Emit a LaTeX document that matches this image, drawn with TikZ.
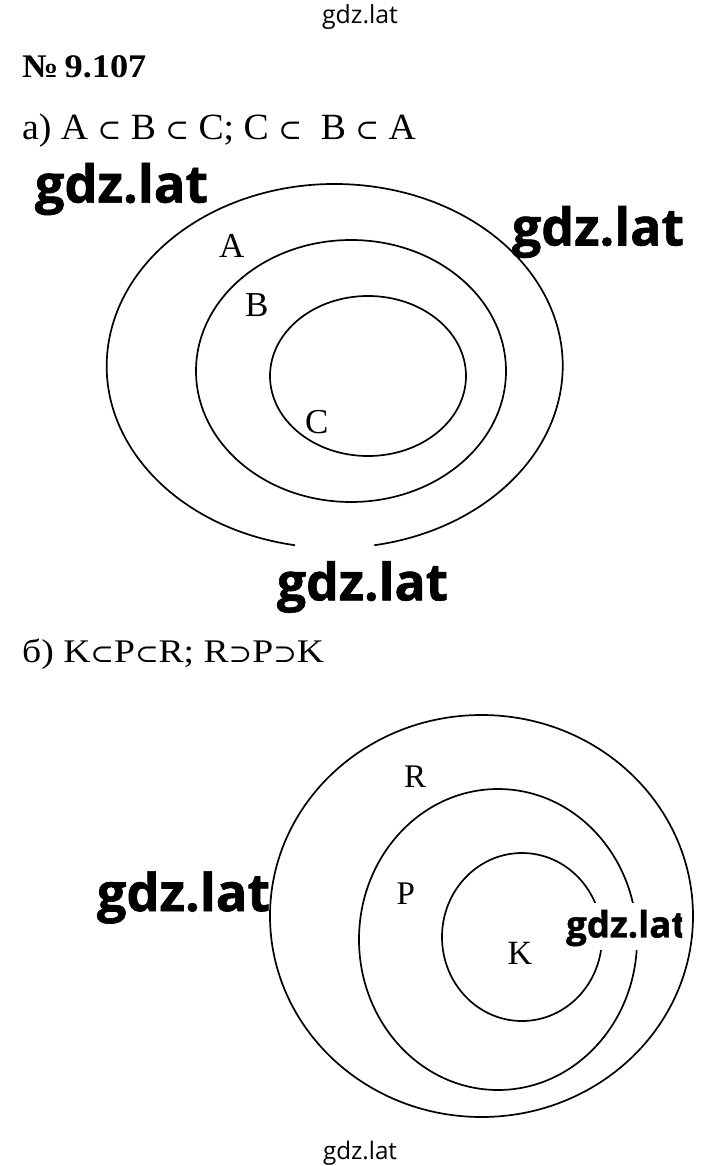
\documentclass[tikz,border=0pt]{standalone}
\usepackage{fontspec}
\usepackage{graphicx}
\setmainfont{Liberation Serif}
\newfontfamily\wmfont{Open Sans}[BoldFeatures={FakeBold=1.2}]
\newfontfamily\symf{DejaVu Serif}
\newcommand{\subs}{\scalebox{0.75}{\symf ⊂}}
\newcommand{\sups}{\scalebox{0.75}{\symf ⊃}}
\tikzset{
  x=1pt, y=-1pt,
  curve/.style={line width=1.7pt, black},
  lbl/.style={inner sep=0pt, font=\fontsize{35}{36}\selectfont},
  wmbig/.style={inner sep=0pt, font=\wmfont\bfseries},
  wmsmall/.style={inner sep=0pt, font=\wmfont},
  head/.style={inner sep=0pt, anchor=base west}
}
\begin{document}
\begin{tikzpicture}
\useasboundingbox (0,0) rectangle (720,1166);
\fill[white] (0,0) rectangle (720,1166);

% small watermarks
\node[wmsmall] (wtop) at (360,17.5) {\resizebox{76pt}{!}{gdz.lat}};
\node[wmsmall] (wbot) at (360,1153) {\resizebox{74pt}{!}{gdz.lat}};

% headings
\node[head, font=\bfseries\fontsize{33}{36}\selectfont] (title) at (22,78) {\scalebox{1.1}[1]{№\,9.107}};
\node[head, font=\fontsize{37}{40}\selectfont] (ha) at (22,140) {\scalebox{1.02}[1]{a) A \subs{} B \subs{} C; C \subs\ \ B \subs{} A}};
\node[head, font=\fontsize{33}{36}\selectfont] (hb) at (22,662) {\scalebox{1.14}[1]{б) K\subs P\subs R; R\sups P\sups K}};

% part a ellipses
\coordinate (ca) at (334.7,366);
\draw[curve] ([shift={(100:228 and 182)}]ca) arc[start angle=100, end angle=440, x radius=228, y radius=182];
\draw[curve] (351,371) ellipse[x radius=155, y radius=131];
\draw[curve] (368,376) ellipse[x radius=98, y radius=80];
\node[lbl] (A) at (231.7,246) {A};
\node[lbl] (B) at (256.7,305) {B};
\node[lbl] (C) at (316.7,421.7) {C};

% part b circles
\draw[curve] (481.5,916) ellipse[x radius=211.5, y radius=201];
\draw[curve] (498,939.5) ellipse[x radius=139, y radius=150.5];
\draw[curve] (522,937) ellipse[x radius=80, y radius=84];
\node[lbl, font=\fontsize{33}{36}\selectfont] (R) at (415,777) {R};
\node[lbl, font=\fontsize{33}{36}\selectfont] (P) at (405.7,894) {P};
\node[lbl, font=\fontsize{34}{36}\selectfont] (K) at (520,953) {K};

% big watermarks
\node[wmbig] (w1) at (121.5,189) {\resizebox{173pt}{!}{gdz.lat}};
\node[wmbig] (w2) at (598,232) {\resizebox{172pt}{!}{gdz.lat}};
\node[wmbig] (w3) at (362.5,587) {\resizebox{171pt}{!}{gdz.lat}};
\node[wmbig] (w4) at (183.5,897.5) {\resizebox{173pt}{!}{gdz.lat}};
\fill[white] (564,903) rectangle (683,950);
\begin{scope}
\clip (560,895) rectangle (682,960);
\node[wmbig, anchor=west] (w5) at (566,928) {\resizebox{121pt}{!}{gdz.lat}};
\end{scope}
\end{tikzpicture}
\end{document}
